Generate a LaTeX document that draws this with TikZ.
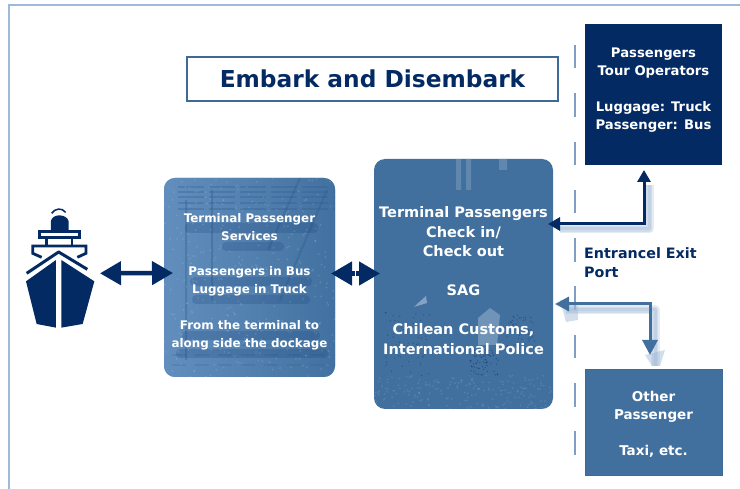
\documentclass[tikz,border=0pt]{standalone}
\usepackage{fontspec}
\setmainfont{DejaVu Sans}
\usetikzlibrary{arrows.meta,calc}
\definecolor{navy}{HTML}{032A63}
\definecolor{midblue}{HTML}{41709F}
\definecolor{leftblue}{HTML}{4C7FB4}
\definecolor{frameblue}{HTML}{9DBBD9}
\definecolor{dashblue}{HTML}{7F9FC0}
\definecolor{shadowblue}{HTML}{9DB8D4}
\definecolor{titleline}{HTML}{3F6A97}
\tikzset{
  x=1pt,y=-1pt,
  boxtext/.style={text=white,font=\bfseries\fontsize{11.9}{18}\selectfont,align=center},
  righttext/.style={text=white,font=\bfseries\fontsize{13.2}{18}\selectfont,align=center},
  panel/.style={rounded corners=11pt,fill=midblue,inner sep=0pt,minimum width=179pt,minimum height=250pt},
  plainbox/.style={inner sep=0pt,minimum width=137pt},
  conn/.style={line width=3pt,navy},
  softshadow/.style={shadowblue,opacity=.28,line join=round},
  bigtips/.style={line width=4.5pt,navy,{Triangle[length=21pt,width=23pt]}-{Triangle[length=21pt,width=23pt]}},
  textband/.style={fill=navy,opacity=.16,rounded corners=4pt},
}
\begin{document}
\begin{tikzpicture}
\useasboundingbox (0,0) rectangle (740,489);
\fill[white] (0,0) rectangle (740,489);
\draw[frameblue,line width=1.3pt] (9,489) -- (9,5) -- (740,5);
% dashed separator
\coordinate (dashtop) at (575,45);
\coordinate (dashbot) at (575,460);
\draw[dashblue,line width=2pt,dash pattern=on 23.5pt off 24.8pt] (dashtop) -- (dashbot);
% title
\node[draw=titleline,line width=1.3pt,fill=white,minimum width=371pt,minimum height=44pt,inner sep=0pt,text=navy,font=\bfseries\fontsize{23.3}{26}\selectfont] (title) at (372.5,79) {Embark and Disembark};
% panels
\node[panel,fill=leftblue,minimum width=171pt,minimum height=199pt] (left) at (249.5,277.5) {};
\node[panel] (mid) at (463.5,284) {};
% texture of the left panel
\begin{scope}
\clip[rounded corners=11pt] (164,178) rectangle (335,377);
\shade[left color=leftblue!88!white,right color=midblue!92!leftblue] (164,178) rectangle (335,377);
\foreach \yy in {187,192,197,203,209}{
  \draw[midblue!70!navy,opacity=.3,line width=2pt,dash pattern=on 26pt off 5pt] (178,\yy) -- (335,\yy);
}
\draw[midblue!70!navy,opacity=.35,line width=2pt] (327,190) -- (280,300) (300,178) -- (268,250) (186,200) -- (186,360) (212,190) -- (212,300);
\foreach \yy in {345,355,365}{
  \draw[midblue!70!navy,opacity=.2,line width=2pt,dash pattern=on 14pt off 9pt] (172,\yy) -- (335,\yy);
}
\fill[textband] (185,223) rectangle (318,233);
\fill[textband] (222,242) rectangle (284,251);
\fill[textband] (190,277) rectangle (312,286);
\fill[textband] (192,295) rectangle (310,304);
\fill[textband] (182,331) rectangle (320,340);
\fill[textband] (176,349) rectangle (328,358);
\pgfmathsetseed{7}
\foreach \i in {1,...,320}{
  \fill[white,opacity=.13] ({164+rnd*171},{178+rnd*199}) circle (1pt);
}
\end{scope}
% texture of the middle panel
\begin{scope}
\clip[rounded corners=11pt] (374,159) rectangle (553,409);
\fill[midblue!72!white,opacity=.6] (456,159) rectangle (461,190) (466,159) rectangle (471,190) (499,159) rectangle (507,170);
\fill[midblue!65!white] (417,304) -- (426,296) -- (427,303) -- (414,307) -- cycle;
\fill[midblue!75!white] (478,318) -- (490,308) -- (500,315) -- (497,345) -- (478,345) -- cycle;
\pgfmathsetseed{11}
\foreach \i in {1,...,70}{
  \fill[navy,opacity=.4] ({385+rnd*45},{312+rnd*65}) circle (.7pt);
}
\foreach \i in {1,...,70}{
  \fill[navy,opacity=.45] ({470+rnd*30},{350+rnd*25}) circle (.7pt);
}
\foreach \i in {1,...,60}{
  \fill[navy,opacity=.4] ({505+rnd*30},{315+rnd*35}) circle (.7pt);
}
\foreach \i in {1,...,200}{
  \fill[white,opacity=.1] ({374+rnd*179},{375+rnd*34}) circle (1pt);
}
\end{scope}
\node[boxtext] (lefttext) at (249.5,282) {Terminal Passenger\\Services\\[17pt]Passengers in Bus\\Luggage in Truck\\[18pt]From the terminal to\\along side the dockage};
\node[boxtext,font=\bfseries\fontsize{14.5}{19.5}\selectfont] (midtext) at (463.5,280.5) {Terminal Passengers\\Check in/\\Check out\\[19.5pt]SAG\\[19.5pt]Chilean Customs,\\International Police};
% right boxes
\node[plainbox,fill=navy,minimum height=141pt] (tour) at (653.5,94.5) {};
\node[righttext] (tourtext) at (653.5,90) {Passengers\\Tour Operators\\[17.5pt]Luggage: Truck\\Passenger: Bus};
\node[plainbox,fill=midblue,draw=titleline,line width=.8pt,minimum height=106pt] (other) at (653.5,422) {};
\node[righttext,font=\bfseries\fontsize{13.5}{18}\selectfont] (othertext) at (653.5,424.5) {Other\\Passenger\\[17.5pt]Taxi, etc.};
% gate label
\node[text=navy,font=\bfseries\fontsize{14.3}{19}\selectfont,align=left,anchor=north west,inner sep=0pt] (gate) at (584,247.5) {Entrancel Exit\\Port};
% ship
\begin{scope}[shift={(0,180)},x=.3333pt,y=-.3333pt]
\coordinate (ship) at (300,280);
\fill[navy] (78,304) -- (168,240) -- (168,443) -- (110,432) -- cycle;
\fill[navy] (184,240) -- (283,304) -- (248,432) -- (184,443) -- cycle;
\draw[navy,line width=3pt,line join=round] (80,280) -- (176,216) -- (262,268);
\draw[navy,line width=2.8pt] (125,232) -- (98,220) -- (98,198) -- (258,198) -- (258,220) -- (232,232);
\draw[navy,line width=2.8pt] (118,155) rectangle (238,173);
\draw[navy,line width=2.8pt] (140,173) -- (140,198) (216,173) -- (216,198);
\fill[navy] (153,150) -- (153,122) .. controls (156,112) and (166,106) .. (178,106) .. controls (190,106) and (204,112) .. (206,124) -- (206,150) -- cycle;
\draw[navy,line width=1.5pt] (155,100) .. controls (165,85) and (185,82) .. (197,97);
\end{scope}
% shadows
\foreach \w in {3,6,9}{
  \draw[softshadow,line width=\w pt] (560,229) -- (649,229) -- (649,185);
  \draw[softshadow,line width=\w pt] (566,310) -- (655,310) -- (655,366);
}
\fill[shadowblue,opacity=.45] (560,300) -- (578,306) -- (578,320) -- (566,322) -- cycle;
\fill[shadowblue,opacity=.45] (645,355) -- (665,350) -- (660,366) -- (652,366) -- cycle;
% connectors
\coordinate (leftin) at (173,273);
\draw[bigtips] (ship) -- (leftin);
\coordinate (a) at (331,273.5);
\coordinate (b) at (380,273.5);
\coordinate (c) at (355.5,273.5);
\draw[navy,line width=4.5pt,{Triangle[length=21pt,width=23pt]}-] (a) -- (c);
\draw[navy,line width=4.5pt,-{Triangle[length=21pt,width=23pt]}] (c) -- (b);
\draw[white,line width=.8pt] (355.5,262) -- (355.5,285);
\coordinate (t1) at (548,224);
\coordinate (t2) at (644,170);
\draw[conn,{Triangle[length=12pt,width=13pt]}-{Triangle[length=12pt,width=13pt]}] (t1) -| (t2);
\coordinate (o1) at (555,304);
\coordinate (o2) at (650,355);
\draw[conn,midblue,{Triangle[length=14pt,width=14pt]}-{Triangle[length=15pt,width=15pt]}] (o1) -| (o2);
\end{tikzpicture}
\end{document}
